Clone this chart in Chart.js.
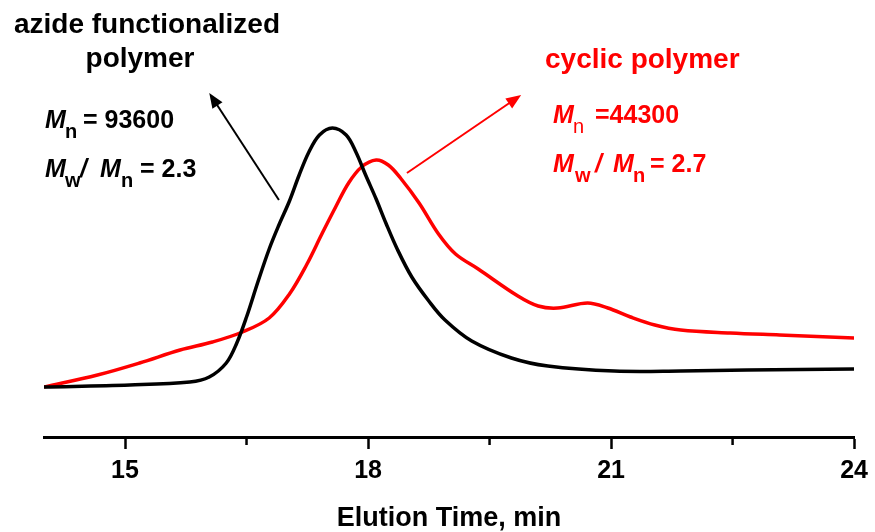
<!DOCTYPE html>
<html>
<head>
<meta charset="utf-8">
<script src="https://cdn.jsdelivr.net/npm/chart.js@4/dist/chart.umd.min.js"></script>
<style>
  html, body { margin: 0; padding: 0; background: #fff; }
  #wrap { width: 875px; height: 532px; }
</style>
</head>
<body>
<div id="wrap"><canvas id="gpc"></canvas></div>
<script>
// GPC traces: azide functionalized polymer vs cyclic polymer
const azideTime   = [14.0, 15.06, 15.8, 16.04, 16.25, 16.38, 16.5, 16.64, 16.78, 16.9, 17.03, 17.15, 17.27, 17.4, 17.56, 17.73, 17.85, 17.97, 18.1, 18.22, 18.36, 18.54, 18.75, 18.95, 19.28, 19.77, 20.22, 21.04, 21.86, 22.68, 24.0];
const azideSignal = [50, 52, 55, 60, 74, 94, 120, 155, 188, 212, 236, 262, 285, 302, 309, 302, 285, 262, 238, 214, 188, 160, 136, 117, 96, 79, 71, 66, 66, 67, 68];

const cyclicTime   = [14.0, 14.66, 15.18, 15.68, 16.08, 16.45, 16.78, 17.03, 17.24, 17.43, 17.6, 17.76, 17.92, 18.1, 18.25, 18.4, 18.63, 18.87, 19.08, 19.36, 19.85, 20.1, 20.34, 20.71, 20.96, 21.24, 21.54, 21.86, 22.47, 23.08, 24.0];
const cyclicSignal = [50, 62, 74, 87, 95, 105, 119, 143, 172, 203, 230, 254, 270, 277, 272, 259, 234, 203, 183, 168, 141, 131, 129, 134, 129, 120, 112, 107, 104, 102, 99];

const majorTicks = [15, 18, 21, 24];
const minorTicks = [16.5, 19.5, 22.5];

// arrows [fromTime, fromSignal, toTime, toSignal]
const azideArrow  = [16.9, 237, 16.04, 344];
const cyclicArrow = [18.48, 264, 19.89, 342];

const FONT = '"Liberation Sans", Arial, sans-serif';
const RED = '#ff0000';

const toXY = (xs, ys) => xs.map((x, i) => ({ x, y: ys[i] }));

function arrow(ctx, x1, y1, x2, y2, color){
  const ang = Math.atan2(y2 - y1, x2 - x1);
  const len = 15, half = 6;
  ctx.save();
  ctx.strokeStyle = color; ctx.fillStyle = color; ctx.lineWidth = 2;
  ctx.beginPath();
  ctx.moveTo(x1, y1);
  ctx.lineTo(x2 - Math.cos(ang) * len * 0.8, y2 - Math.sin(ang) * len * 0.8);
  ctx.stroke();
  ctx.beginPath();
  ctx.moveTo(x2, y2);
  ctx.lineTo(x2 - Math.cos(ang) * len + Math.sin(ang) * half, y2 - Math.sin(ang) * len - Math.cos(ang) * half);
  ctx.lineTo(x2 - Math.cos(ang) * len - Math.sin(ang) * half, y2 - Math.sin(ang) * len + Math.cos(ang) * half);
  ctx.closePath();
  ctx.fill();
  ctx.restore();
}

// draws a run of [text, font, x, dy] pieces on baseline y
function rich(ctx, y, color, pieces){
  ctx.save();
  ctx.fillStyle = color;
  ctx.textBaseline = 'alphabetic';
  ctx.textAlign = 'left';
  pieces.forEach(([t, f, px, dy]) => {
    ctx.font = f;
    ctx.fillText(t, px, y + dy);
  });
  ctx.restore();
}

const annotations = {
  id: 'annotations',
  afterDraw(chart){
    const { ctx, scales: { x, y } } = chart;

    // minor ticks
    ctx.save();
    ctx.strokeStyle = '#000'; ctx.lineWidth = 2.5;
    minorTicks.forEach(v => {
      const px = x.getPixelForValue(v);
      ctx.beginPath(); ctx.moveTo(px, y.bottom); ctx.lineTo(px, y.bottom + 8); ctx.stroke();
    });
    ctx.restore();

    const p = a => [x.getPixelForValue(a[0]), y.getPixelForValue(a[1]), x.getPixelForValue(a[2]), y.getPixelForValue(a[3])];
    arrow(ctx, ...p(azideArrow), '#000');
    arrow(ctx, ...p(cyclicArrow), RED);

    const big = `bold 28px ${FONT}`;
    const num = `bold 25px ${FONT}`;
    const ital = `italic bold 25px ${FONT}`;
    const sub = `bold 20px ${FONT}`;

    ctx.save();
    ctx.fillStyle = '#000';
    ctx.font = big;
    ctx.textAlign = 'center';
    ctx.fillText('azide functionalized', 147, 33);
    ctx.fillText('polymer', 140, 67);
    ctx.fillStyle = RED;
    ctx.textAlign = 'left';
    ctx.fillText('cyclic polymer', 545, 68);
    ctx.restore();

    rich(ctx, 128, '#000', [['M', ital, 45, 0], ['n', sub, 65, 10], ['= 93600', num, 83, 0]]);
    rich(ctx, 177, '#000', [['M', ital, 45, 0], ['w', sub, 65, 10], ['/', ital, 80, 0], ['M', ital, 100, 0], ['n', sub, 121, 10], ['= 2.3', num, 140, 0]]);
    rich(ctx, 123, RED, [['M', ital, 553, 0], ['n', `20px ${FONT}`, 573, 10], ['=44300', num, 595, 0]]);
    rich(ctx, 172, RED, [['M', ital, 553, 0], ['w', sub, 575, 10], ['/', ital, 595, 0], ['M', ital, 613, 0], ['n', sub, 633, 10], ['= 2.7', num, 650, 0]]);
  }
};

new Chart(document.getElementById('gpc'), {
  type: 'line',
  data: {
    datasets: [
      { label: 'azide functionalized polymer', data: toXY(azideTime, azideSignal), borderColor: '#000' },
      { label: 'cyclic polymer', data: toXY(cyclicTime, cyclicSignal), borderColor: RED }
    ]
  },
  options: {
    responsive: true,
    maintainAspectRatio: false,
    animation: false,
    layout: { padding: { left: 44, right: 17, top: 17, bottom: 0 } },
    elements: {
      point: { radius: 0 },
      line: { borderWidth: 3.5, tension: 0.35, fill: false, capBezierPoints: true }
    },
    plugins: { legend: { display: false }, tooltip: { enabled: false } },
    scales: {
      x: {
        type: 'linear',
        min: 14, max: 24,
        afterBuildTicks: s => { s.ticks = majorTicks.map(value => ({ value })); },
        afterFit: s => { s.height = 95; },
        grid: { drawOnChartArea: false, drawTicks: true, tickLength: 12, tickWidth: 2.5, tickColor: '#000' },
        border: { display: true, color: '#000', width: 3 },
        ticks: { color: '#000', padding: 7, maxRotation: 0, font: { family: FONT, size: 25, weight: 'bold' } },
        title: { display: true, text: 'Elution Time, min', color: '#000', padding: 0, font: { family: FONT, size: 27, weight: 'bold', lineHeight: 1 } }
      },
      y: { display: false, min: 0, max: 420 }
    }
  },
  plugins: [annotations]
});
</script>
</body>
</html>
